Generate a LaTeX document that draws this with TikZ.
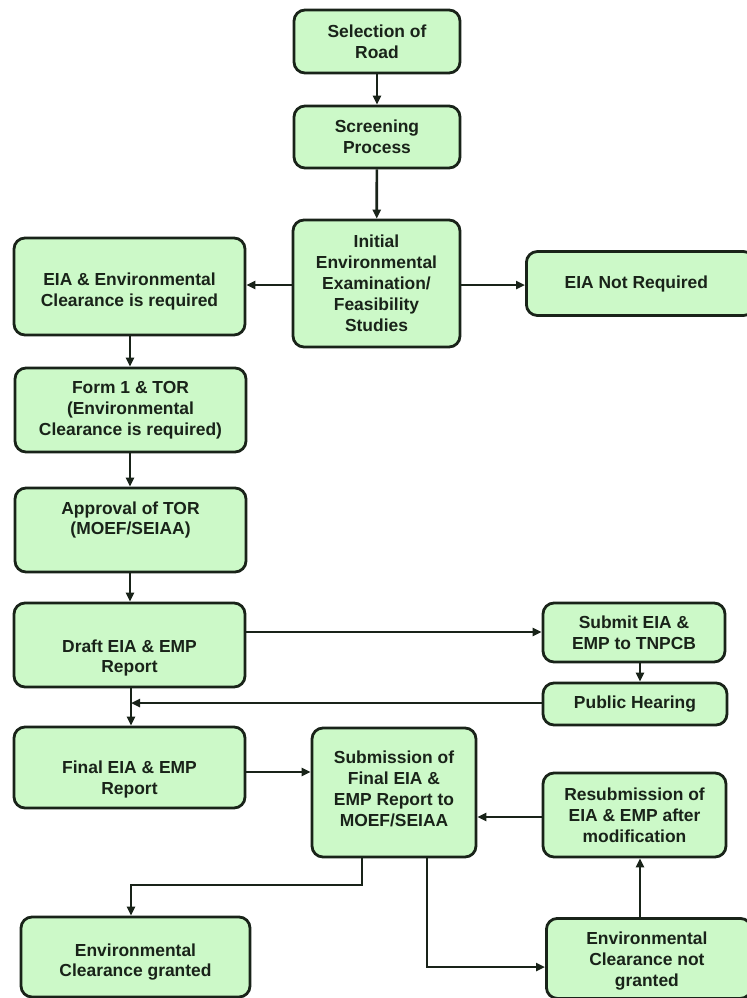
\documentclass[tikz,border=0pt]{standalone}
\usepackage{fontspec}
\setmainfont{Liberation Sans}
\usetikzlibrary{arrows.meta}
\definecolor{boxfill}{RGB}{204,249,200}
\definecolor{ink}{RGB}{25,35,25}
\begin{document}
\begin{tikzpicture}[x=1bp,y=-1bp,
  txt/.style={align=center, inner sep=0bp, font=\fontsize{17.5}{21}\selectfont\bfseries, text=ink},
  box/.style={draw=ink, fill=boxfill, line width=2.8bp, rounded corners=11bp,
    inner sep=2bp, txt},
  conn/.style={draw=ink, line width=2.7bp, -{Triangle[length=9bp,width=8bp]}}]
\useasboundingbox[fill=white] (0,0) rectangle (747,998);
% boxes
\node[box, minimum width=166bp, minimum height=63bp] (sel) at (377,41.5) {Selection of\\Road};
\node[box, minimum width=166bp, minimum height=62bp] (scr) at (377,137) {Screening\\Process};
\node[box, minimum width=167bp, minimum height=127bp] (init) at (376.5,283.5) {Initial\\Environmental\\Examination/\\Feasibility\\Studies};
\node[box, minimum width=231bp, minimum height=97bp,
  label={[txt,yshift=-5bp]center:EIA \& Environmental\\Clearance is required}] (req) at (129.5,286.5) {};
\node[box, minimum width=228bp, minimum height=64bp, anchor=west,
  label={[txt,xshift=-4bp]center:EIA Not Required}] (notreq) at (525,283.5) {};
\node[box, minimum width=231bp, minimum height=84bp] (form) at (130.5,410) {Form 1 \& TOR\\(Environmental\\Clearance is required)};
\node[box, minimum width=231bp, minimum height=84bp,
  label={[txt,yshift=10bp]center:Approval of TOR\\(MOEF/SEIAA)}] (appr) at (130.5,530) {};
\node[box, minimum width=231bp, minimum height=84bp,
  label={[txt,yshift=-13bp]center:Draft EIA \& EMP\\Report}] (draft) at (129.5,645) {};
\node[box, minimum width=182bp, minimum height=59bp] (submit) at (634,632.5) {Submit EIA \&\\EMP to TNPCB};
\node[box, minimum width=184bp, minimum height=42bp] (pub) at (635,704) {Public Hearing};
\node[box, minimum width=231bp, minimum height=81bp,
  label={[txt,yshift=-12bp]center:Final EIA \& EMP\\Report}] (final) at (129.5,767.5) {};
\node[box, minimum width=164bp, minimum height=129bp,
  label={[txt,yshift=4bp]center:Submission of\\Final EIA \&\\EMP Report to\\MOEF/SEIAA}] (subm) at (394,792.5) {};
\node[box, minimum width=183bp, minimum height=84bp] (resub) at (634.5,815) {Resubmission of\\EIA \& EMP after\\modification};
\node[box, minimum width=229bp, minimum height=80bp,
  label={[txt,yshift=-5bp]center:Environmental\\Clearance granted}] (gr) at (135.5,957) {};
\node[box, minimum width=205bp, minimum height=80bp, anchor=north west,
  label={[txt,xshift=-2bp,yshift=-3bp]center:Environmental\\Clearance not\\granted}] (ngr) at (545,917) {};
% helper coordinates
\coordinate (ph) at (131,703);
\coordinate (g1) at (362,885);
\coordinate (g2) at (131,885);
\coordinate (n1) at (427,967);
% connectors
\draw[conn] (sel) -- (scr);
\draw[conn] (scr) -- (init);
\draw[conn] (init.west |- 0,285) -- (req.east |- 0,285);
\draw[conn] (init.east |- 0,285) -- (notreq.west |- 0,285);
\draw[conn] (req.south -| 130,0) -- (form.north -| 130,0);
\draw[conn] (form.south -| 130,0) -- (appr.north -| 130,0);
\draw[conn] (appr.south -| 130,0) -- (draft.north -| 130,0);
\draw[conn] (draft.east |- 0,632) -- (submit.west |- 0,632);
\draw[conn] (submit.south -| 640,0) -- (pub.north -| 640,0);
\draw[conn] (pub.west |- ph) -- (ph);
\draw[conn] (draft.south -| 131,0) -- (final.north -| 131,0);
\draw[conn] (final.east |- 0,772) -- (subm.west |- 0,772);
\draw[conn] (resub.west |- 0,817) -- (subm.east |- 0,817);
\draw[conn] (subm.south -| g1) -- (g1) -- (g2) -- (gr.north -| g2);
\draw[conn] (subm.south -| n1) -- (n1) -- (ngr.west |- n1);
\draw[conn] (ngr.north -| 640,0) -- (resub.south -| 640,0);
\end{tikzpicture}
\end{document}
